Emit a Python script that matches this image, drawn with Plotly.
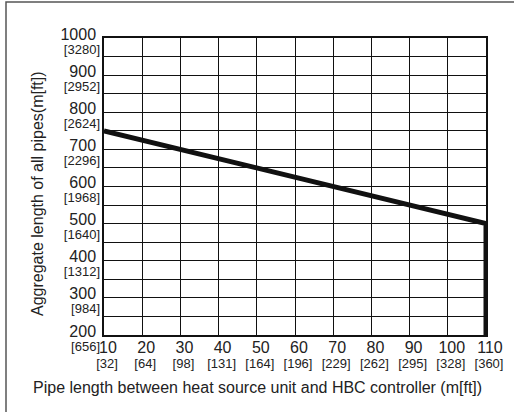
import plotly.graph_objects as go

# Data
line_x = [10, 110, 110]
line_y = [750, 500, 200]

x_m = [10, 20, 30, 40, 50, 60, 70, 80, 90, 100, 110]
x_ft = [32, 64, 98, 131, 164, 196, 229, 262, 295, 328, 360]
y_m = [200, 300, 400, 500, 600, 700, 800, 900, 1000]
y_ft = [656, 984, 1312, 1640, 1968, 2296, 2624, 2952, 3280]

FONT = "Liberation Sans, Arial, sans-serif"
W, H = 514, 412
L, R, T, B = 104, 28, 38, 77
PW, PH = W - L - R, H - T - B
XR = [10, 110]
YR = [200, 1000]


def px_x(p):
    return (p - L) / PW


def px_y(p):
    return 1 - (p - T) / PH


fig = go.Figure()
fig.add_trace(go.Scatter(x=line_x, y=line_y, mode="lines",
                         line=dict(color="#111111", width=5),
                         showlegend=False, hoverinfo="skip"))
# invisible trace to anchor the secondary (feet) label axes
fig.add_trace(go.Scatter(x=[XR[0]], y=[YR[0]], xaxis="x2", yaxis="y2", mode="markers",
                         marker=dict(opacity=0), showlegend=False, hoverinfo="skip"))

common = dict(ticks="", zeroline=False, automargin=False, tickmode="array")

fig.update_layout(
    width=W, height=H,
    margin=dict(l=L, r=R, t=T, b=B, autoexpand=False),
    paper_bgcolor="white", plot_bgcolor="white",
    font=dict(family=FONT, size=16, color="#222222"),
    showlegend=False,
    xaxis=dict(
        range=XR, tickvals=x_m, ticktext=[str(v) for v in x_m],
        showgrid=True, gridcolor="#111111", gridwidth=1.3,
        showline=True, linecolor="#111111", linewidth=1.5, mirror=True,
        tickfont=dict(size=16), ticklabelshift=4, ticklabelstandoff=-3,
        **common,
    ),
    xaxis2=dict(
        range=XR, tickvals=x_m, ticktext=[f"[{v}]" for v in x_ft],
        overlaying="x", side="bottom", anchor="y2",
        showgrid=False, showline=False,
        tickfont=dict(size=13), ticklabelshift=3, ticklabelstandoff=19,
        **common,
    ),
    yaxis=dict(
        range=YR, tickvals=y_m, ticktext=[str(v) for v in y_m],
        showgrid=True, gridcolor="#111111", gridwidth=1.3,
        minor=dict(dtick=50, tick0=200, showgrid=True, gridcolor="#111111", gridwidth=1.3),
        showline=True, linecolor="#111111", linewidth=1.5, mirror=True,
        tickfont=dict(size=16), ticklabelshift=-4, ticklabelstandoff=3,
        **common,
    ),
    yaxis2=dict(
        range=YR, tickvals=y_m, ticktext=[f"[{v}]" for v in y_ft],
        overlaying="y", side="left", anchor="x2",
        showgrid=False, showline=False,
        tickfont=dict(size=13), ticklabelshift=11, ticklabelstandoff=3,
        **common,
    ),
    annotations=[
        dict(text="Aggregate length of all pipes(m[ft])", textangle=-90,
             xref="paper", yref="paper", x=px_x(37), y=px_y(194),
             xanchor="center", yanchor="middle", showarrow=False,
             font=dict(size=16, family=FONT, color="#222222")),
        dict(text="Pipe length between heat source unit and HBC controller (m[ft])",
             xref="paper", yref="paper", x=px_x(257), y=px_y(387),
             xanchor="center", yanchor="middle", showarrow=False,
             font=dict(size=16, family=FONT, color="#222222")),
    ],
    shapes=[
        dict(type="rect", xref="paper", yref="paper", x0=px_x(6), x1=px_x(530),
             y0=px_y(2), y1=px_y(430), line=dict(color="#555555", width=1.5),
             fillcolor="rgba(0,0,0,0)", layer="above"),
    ],
)

fig.write_html("out.html", post_script="document.body.style.margin='0';",
               config={"displayModeBar": False})
